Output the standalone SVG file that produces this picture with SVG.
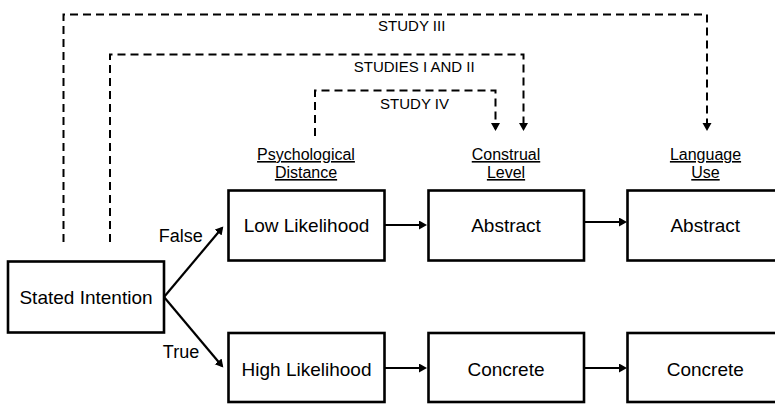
<svg xmlns="http://www.w3.org/2000/svg" width="775" height="404" viewBox="0 0 775 404">
<style>
.box{fill:#fff;stroke:#000;stroke-width:2.6}
.t{font-family:"Liberation Sans",Arial,sans-serif;fill:#000;text-anchor:middle}
.bt{font-size:19px}
.hd{font-size:16px;text-decoration:underline}
.st{font-size:15px}
.lb{font-size:18px}
.solid{fill:none;stroke:#000;stroke-width:2.2}
.dash{fill:none;stroke:#000;stroke-width:2;stroke-dasharray:8 5}
</style>
<defs>
<marker id="ah" markerUnits="userSpaceOnUse" markerWidth="10" markerHeight="10" refX="6" refY="4.5" orient="auto">
<path d="M0,0 L8,4.5 L0,9 Z" fill="#000"/>
</marker>
</defs>
<rect width="775" height="404" fill="#fff"/>
<g id="connectors">
<path class="dash" d="M63.5 242 V14.5 H707 V129" marker-end="url(#ah)"/>
<path class="dash" d="M110 242 V54.5 H523.5 V129" marker-end="url(#ah)"/>
<path class="dash" d="M315 136 V90.5 H495.5 V129" marker-end="url(#ah)"/>
<path class="solid" d="M164 297 L222 228" marker-end="url(#ah)"/>
<path class="solid" d="M164 297 L222 366" marker-end="url(#ah)"/>
<path class="solid" d="M385 225 H425" marker-end="url(#ah)"/>
<path class="solid" d="M584 222 H625" marker-end="url(#ah)"/>
<path class="solid" d="M385 368 H425" marker-end="url(#ah)"/>
<path class="solid" d="M584 368 H625" marker-end="url(#ah)"/>
</g>
<g id="labels">
<text class="t st" x="411.7" y="31">STUDY III</text>
<text class="t st" x="414.2" y="72">STUDIES I AND II</text>
<text class="t st" x="414.5" y="109">STUDY IV</text>
<text class="t lb" x="180.8" y="241.5">False</text>
<text class="t lb" x="181" y="358.3">True</text>
</g>
<g id="heading-psych"><text class="t hd" x="306" y="160">Psychological</text><text class="t hd" x="306" y="178">Distance</text></g>
<g id="heading-construal"><text class="t hd" x="506" y="160">Construal</text><text class="t hd" x="506" y="178">Level</text></g>
<g id="heading-language"><text class="t hd" x="705.5" y="160">Language</text><text class="t hd" x="705.5" y="178">Use</text></g>
<g id="stated-intention"><rect class="box" x="8" y="261.5" width="156" height="71"/><text class="t bt" x="86" y="304.3">Stated Intention</text></g>
<g id="low-likelihood"><rect class="box" x="228.5" y="190.5" width="156" height="70"/><text class="t bt" x="306.5" y="232.3">Low Likelihood</text></g>
<g id="high-likelihood"><rect class="box" x="228.5" y="333" width="156" height="69"/><text class="t bt" x="306.5" y="375.7">High Likelihood</text></g>
<g id="abstract-construal"><rect class="box" x="428.5" y="190.5" width="155.5" height="70"/><text class="t bt" x="506" y="232.3">Abstract</text></g>
<g id="concrete-construal"><rect class="box" x="428.5" y="333" width="155.5" height="69"/><text class="t bt" x="506" y="375.7">Concrete</text></g>
<g id="abstract-language"><rect class="box" x="627.5" y="190.5" width="157" height="70"/><text class="t bt" x="705.3" y="232.3">Abstract</text></g>
<g id="concrete-language"><rect class="box" x="627.5" y="333" width="157" height="69"/><text class="t bt" x="705.3" y="375.7">Concrete</text></g>
</svg>
